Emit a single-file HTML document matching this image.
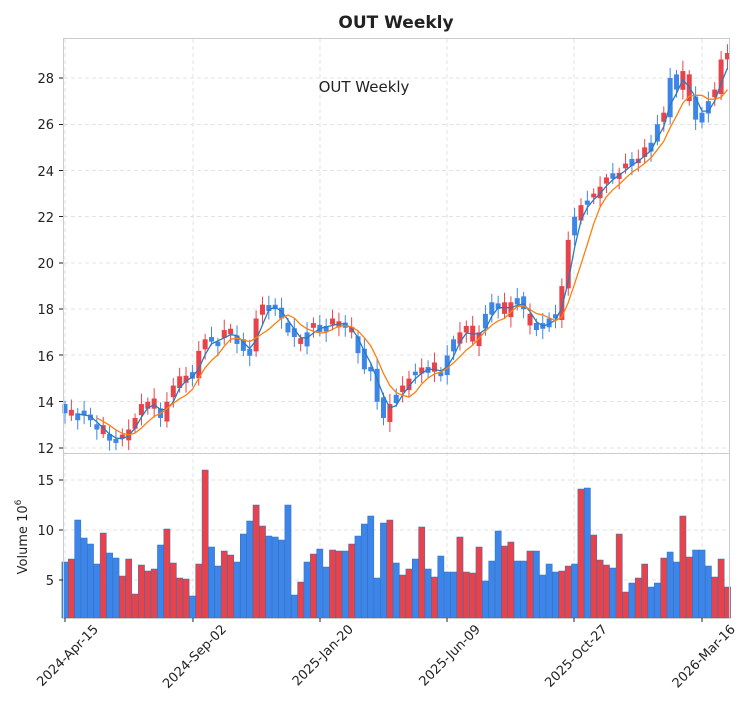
<!DOCTYPE html>
<html><head><meta charset="utf-8"><style>
body{margin:0;background:#fff}
svg text{font-family:"DejaVu Sans","Liberation Sans",sans-serif;fill:#222}
</style></head><body>
<svg id="s" width="750" height="712" xmlns="http://www.w3.org/2000/svg">
<rect width="750" height="712" fill="#fff"/>
<text x="396" y="28" font-size="17" font-weight="bold" text-anchor="middle">OUT  Weekly</text>
<g id="grid" stroke="#e3e3e3" stroke-dasharray="4,3" stroke-width="1"></g>
<g id="data"></g>
<rect x="63.5" y="38.5" width="666" height="415" fill="none" stroke="#ccc"/>
<rect x="63.5" y="453.5" width="666" height="165" fill="none" stroke="#ccc"/>
<text x="364" y="92" font-size="15" text-anchor="middle">OUT  Weekly</text>
<g font-size="13" text-anchor="end">
<text x="54" y="453">12</text><text x="54" y="407">14</text><text x="54" y="361">16</text><text x="54" y="314">18</text><text x="54" y="268">20</text><text x="54" y="222">22</text><text x="54" y="176">24</text><text x="54" y="129">26</text><text x="54" y="83">28</text>
<text x="54" y="585">5</text><text x="54" y="535">10</text><text x="54" y="485">15</text>
</g>
<text transform="translate(27,537) rotate(-90)" font-size="13" text-anchor="middle">Volume  10<tspan font-size="9" dy="-6">6</tspan></text>
<g font-size="13" text-anchor="end">
<text transform="translate(99,630) rotate(-45)">2024-Apr-15</text>
<text transform="translate(227,630) rotate(-45)">2024-Sep-02</text>
<text transform="translate(354,630) rotate(-45)">2025-Jan-20</text>
<text transform="translate(481,630) rotate(-45)">2025-Jun-09</text>
<text transform="translate(608,630) rotate(-45)">2025-Oct-27</text>
<text transform="translate(736,630) rotate(-45)">2026-Mar-16</text>
</g>
<g id="ticks" stroke="#222"></g>
</svg>
<script>
(function(){
var C=[13.5,13.4,13.5,13.4,13.2,12.8,12.6,12.4,12.3,12.5,12.8,13.3,13.9,14.0,13.7,13.3,14.0,14.7,15.1,14.9,15.2,16.2,16.7,16.6,16.6,17.1,17.0,16.5,16.2,16.2,17.6,18.2,18.1,18.0,17.6,17.0,16.8,16.5,17.0,17.4,17.1,17.2,17.6,17.3,17.2,17.0,16.1,15.4,15.5,14.0,13.3,13.9,14.3,14.7,15.0,15.3,15.4,15.5,15.3,15.2,16.0,16.7,17.0,17.2,16.6,17.0,17.8,18.3,18.1,17.8,18.3,18.4,18.0,17.3,17.1,17.4,17.6,17.6,19.0,21.0,22.0,22.5,22.7,23.0,23.3,23.7,23.8,23.9,24.3,24.5,24.4,25.0,25.2,26.0,26.5,28.0,27.5,28.3,27.0,26.2,26.5,27.0,27.5,28.8,29.0];
var V=[6.8,7.1,11.0,9.2,8.6,6.6,9.7,7.7,7.2,5.4,7.1,3.6,6.5,5.9,6.1,8.5,10.1,6.7,5.2,5.1,3.4,6.6,16.0,8.3,6.4,7.9,7.5,6.8,9.6,10.9,12.5,10.4,9.4,9.3,9.0,12.5,3.5,4.8,6.8,7.6,8.1,6.3,8.0,7.9,7.9,8.6,9.4,10.6,11.4,5.2,10.7,11.0,6.7,5.5,6.1,7.1,10.3,6.1,5.3,7.4,5.8,5.8,9.3,5.8,5.7,8.3,4.9,6.9,9.9,8.4,8.8,6.9,6.9,7.9,7.9,5.5,6.6,5.8,5.9,6.4,6.6,14.1,14.2,9.5,7.0,6.5,6.2,9.6,3.8,4.7,5.2,6.6,4.3,4.7,7.2,7.8,6.8,11.4,7.3,8.0,8.0,6.4,5.3,7.1,4.3];
var R="BRBBBBRBBRRRRRRBRRRRBRRBBRRBBBRRBBBBBRBRBBRRBRBBBBBRBRRBRBRBBBRRRRBBBRRBBRBBBBRRBRBRRRBRRBRRBBRBBRRBBBRRR";
var X=function(i){return 65+6.37*i},Y=function(p){return 448-(p-12)*23.125},VY=function(v){return 630-10*v};
var s="";
var g="";[78,124.5,170.5,216.5,263,309,355,401.5,448,480,530,580].forEach(function(y){g+='<line x1="64" x2="729" y1="'+y+'" y2="'+y+'"/>'});
[65,193,320,447,574,702].forEach(function(x){g+='<line x1="'+x+'" x2="'+x+'" y1="39" y2="618"/>'});
document.getElementById('grid').innerHTML=g;
var t="";[65,193,320,447,574,702].forEach(function(x){t+='<line x1="'+x+'" x2="'+x+'" y1="618" y2="622"/>'});
[78,124.5,170.5,216.5,263,309,355,401.5,448,480,530,580].forEach(function(y){t+='<line x1="59" x2="63" y1="'+y+'" y2="'+y+'"/>'});
document.getElementById('ticks').innerHTML=t;
for(var i=0;i<C.length;i++){
 var o=i?C[i-1]+0.2*Math.sin(i*2.3):C[0]+0.4;
 var c=C[i];var col=R.charAt(i)=="R"?"#e8434a":"#3d85e8";
 var tp=Math.max(o,c),bt=Math.min(o,c);if(tp-bt<0.15){tp+=0.08;bt-=0.08}
 var hi=tp+0.15+0.3*Math.abs(Math.sin(i*1.7)),lo=bt-0.15-0.3*Math.abs(Math.cos(i*1.3));
 var x=X(i);
 s+='<line x1="'+x+'" x2="'+x+'" y1="'+Y(hi)+'" y2="'+Y(lo)+'" stroke="'+col+'" stroke-width="1"/>';
 s+='<rect x="'+(x-2.5)+'" y="'+Y(tp)+'" width="5" height="'+(Y(bt)-Y(tp))+'" fill="'+col+'"/>';
 var vy=Math.max(VY(V[i]),454);
 s+='<rect x="'+(x-3.1)+'" y="'+vy+'" width="6.2" height="'+(618-vy)+'" fill="'+col+'" stroke="#2f6fbf" stroke-width="0.5"/>';
}
function ma(n,col){var p="";for(var i=n-1;i<C.length;i++){var a=0;for(var k=0;k<n;k++)a+=C[i-k];a/=n;p+=(p?"L":"M")+X(i).toFixed(1)+","+Y(a).toFixed(1)}return '<path d="'+p+'" fill="none" stroke="'+col+'" stroke-width="1.3"/>'}
s+=ma(3,"#2b7bba")+ma(6,"#ff7f0e");
document.getElementById('data').innerHTML=s;
})();
</script>
</body></html>
